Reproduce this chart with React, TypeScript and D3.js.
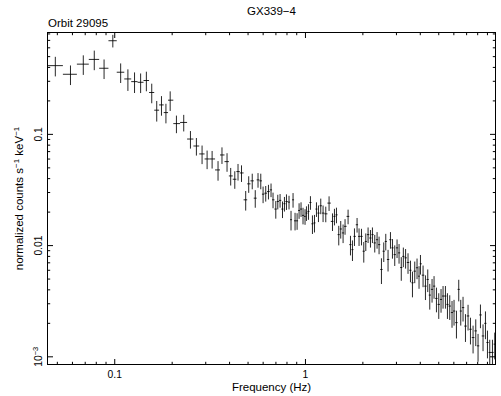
import React from 'react';
import * as d3 from 'd3';

const title = 'GX339\u22124';
const subtitle = 'Orbit 29095';
const xLabel = 'Frequency (Hz)';

const frequency = [
  0.0488, 0.0586, 0.0684, 0.0781, 0.0879, 0.0977, 0.1074, 0.1172, 0.127, 0.1367, 0.1465, 0.1563, 0.166, 0.1758, 0.1855, 0.1953,
  0.2106, 0.23, 0.2494, 0.268, 0.287, 0.305, 0.324, 0.348, 0.365, 0.388,
  0.4055, 0.426, 0.443, 0.462, 0.486, 0.504, 0.526, 0.5455, 0.564, 0.583,
  0.5995, 0.619, 0.6397, 0.66, 0.676, 0.699, 0.716, 0.736, 0.758, 0.776,
  0.795, 0.82, 0.84, 0.861, 0.882, 0.904, 0.926, 0.948, 0.971, 0.995,
  1.012, 1.037, 1.062, 1.088, 1.115, 1.142, 1.17, 1.203, 1.237, 1.278,
  1.33, 1.386, 1.419, 1.454, 1.495, 1.531, 1.575, 1.613, 1.673, 1.722,
  1.764, 1.807, 1.865, 1.91, 1.967, 2.022, 2.072, 2.13, 2.192, 2.245,
  2.309, 2.374, 2.432, 2.503, 2.574, 2.637, 2.711, 2.791, 2.859, 2.939,
  3.022, 3.096, 3.18, 3.26, 3.35, 3.45, 3.553, 3.64, 3.742, 3.847,
  3.941, 4.009, 4.137, 4.258, 4.378, 4.485, 4.611, 4.724, 4.862, 5.0,
  5.14, 5.266, 5.42, 5.553, 5.709, 5.869, 6.013, 6.19, 6.365, 6.521,
  6.704, 6.902, 7.122, 7.332, 7.566, 7.816, 8.036, 8.272, 8.535, 8.787,
  9.003, 9.256, 9.563, 9.83,
];

const power = [
  0.415, 0.347, 0.428, 0.472, 0.393, 0.695, 0.362, 0.315, 0.298, 0.294, 0.305, 0.238, 0.165, 0.184, 0.157, 0.203,
  0.125, 0.128, 0.0908, 0.0786, 0.0667, 0.0601, 0.0601, 0.0479, 0.0653, 0.0569,
  0.0423, 0.0395, 0.0463, 0.045, 0.0258, 0.0359, 0.0382, 0.0267, 0.039, 0.0382,
  0.029, 0.0296, 0.0306, 0.0317, 0.0258, 0.0213, 0.0249, 0.0255, 0.0213, 0.0238,
  0.0249, 0.0246, 0.0171, 0.0258, 0.0167, 0.0167, 0.0207, 0.0213, 0.0187, 0.0183,
  0.0196, 0.0203, 0.0244, 0.0157, 0.016, 0.0213, 0.0196, 0.0228, 0.0196, 0.0193,
  0.0241, 0.0165, 0.0183, 0.0189, 0.01255, 0.0141, 0.013, 0.0149, 0.0183, 0.0102,
  0.0092, 0.0121, 0.0154, 0.0121, 0.0121, 0.0089, 0.0109, 0.01255, 0.0117, 0.01255,
  0.01057, 0.0113, 0.0102, 0.0061, 0.0089, 0.0109, 0.0075, 0.0113, 0.00954, 0.0083,
  0.00954, 0.0086, 0.00635, 0.008, 0.00776, 0.00705, 0.006, 0.00463, 0.00589, 0.00632,
  0.00531, 0.00686, 0.00542, 0.00432, 0.00496, 0.00359, 0.00404, 0.00432, 0.00335, 0.00296,
  0.00328, 0.00352, 0.00352, 0.00296, 0.00286, 0.0025, 0.00258, 0.00203, 0.00404, 0.00258,
  0.00277, 0.00189, 0.00233, 0.00177, 0.00149, 0.00171, 0.001255, 0.00238, 0.00154, 0.002,
  0.001345, 0.001095, 0.001095, 0.0013,
];

const relErr = [
  0.2, 0.2, 0.2, 0.2, 0.2, 0.13, 0.2, 0.22, 0.21, 0.2, 0.2, 0.2, 0.21, 0.2, 0.2, 0.2,
  0.18, 0.17, 0.18, 0.18, 0.19, 0.19, 0.18, 0.2, 0.17, 0.19,
  0.18, 0.18, 0.17, 0.17, 0.2, 0.17, 0.16, 0.18, 0.15, 0.16,
  0.17, 0.16, 0.15, 0.14, 0.16, 0.18, 0.15, 0.14, 0.17, 0.15,
  0.16, 0.14, 0.2, 0.15, 0.18, 0.17, 0.16, 0.15, 0.17, 0.16,
  0.15, 0.16, 0.14, 0.19, 0.18, 0.15, 0.17, 0.16, 0.17, 0.16,
  0.15, 0.18, 0.17, 0.16, 0.2, 0.18, 0.19, 0.16, 0.15, 0.2,
  0.21, 0.18, 0.15, 0.18, 0.17, 0.21, 0.18, 0.16, 0.18, 0.16,
  0.18, 0.17, 0.18, 0.26, 0.2, 0.17, 0.22, 0.17, 0.2, 0.21,
  0.19, 0.2, 0.24, 0.2, 0.2, 0.21, 0.22, 0.26, 0.22, 0.21,
  0.23, 0.2, 0.22, 0.25, 0.23, 0.26, 0.24, 0.23, 0.25, 0.26,
  0.24, 0.23, 0.23, 0.26, 0.25, 0.27, 0.26, 0.28, 0.22, 0.26,
  0.25, 0.28, 0.26, 0.27, 0.28, 0.27, 0.28, 0.24, 0.27, 0.28,
  0.28, 0.3, 0.3, 0.27,
];

const xMajor = [0.1, 1];
const xMajorLabels = ['0.1', '1'];
const yMajor = [0.001, 0.01, 0.1];

const FONT = '"Liberation Sans", Arial, Helvetica, sans-serif';

export default function App() {
  const W = 501;
  const H = 396;
  const L = 47.5;
  const R = 495.5;
  const T = 32.5;
  const B = 364.5;

  const x = d3.scaleLog().domain([0.0444, 9.92]).range([L, R]);
  const y = d3.scaleLog().domain([0.000853, 0.824]).range([B, T]);

  const [xd0, xd1] = x.domain();
  const [yd0, yd1] = y.domain();
  const xMinor: number[] = [];
  const yMinor: number[] = [];
  for (let e = -3; e <= 1; e++) {
    for (let m = 2; m <= 9; m++) {
      const v = m * Math.pow(10, e);
      if (v > xd0 && v < xd1) xMinor.push(v);
      if (v > yd0 && v < yd1) yMinor.push(v);
    }
  }

  const n = Math.min(frequency.length, power.length, relErr.length);
  const pts = d3.range(n).map((i) => {
    const f = frequency[i];
    const prev = i > 0 ? frequency[i - 1] : (f * f) / frequency[i + 1];
    const next = i < n - 1 ? frequency[i + 1] : (f * f) / frequency[i - 1];
    return {
      f,
      lo: Math.sqrt(prev * f),
      hi: Math.sqrt(next * f),
      v: power[i],
      vLo: power[i] * (1 - relErr[i]),
      vHi: power[i] * (1 + relErr[i]),
    };
  });

  const majorLen = 5.5;
  const minorLen = 2.7;

  return (
    <svg
      width={W}
      height={H}
      viewBox={`0 0 ${W} ${H}`}
      style={{ position: 'absolute', left: 0, top: 0, background: '#fff' }}
      fontFamily={FONT}
    >
      <rect x={0} y={0} width={W} height={H} fill="#fff" />
      <defs>
        <clipPath id="plotClip">
          <rect x={L} y={T} width={R - L} height={B - T} />
        </clipPath>
      </defs>

      <text x={(L + R) / 2} y={15} textAnchor="middle" fontSize={11.5} fill="#000">
        {title}
      </text>
      <text x={L + 0.5} y={26.5} textAnchor="start" fontSize={11.5} fill="#000">
        {subtitle}
      </text>

      <g clipPath="url(#plotClip)" stroke="#000" strokeWidth={0.85} fill="none">
        {pts.map((p, i) => (
          <g key={i}>
            <line x1={x(p.f)} x2={x(p.f)} y1={y(p.vHi)} y2={y(p.vLo)} />
            <line x1={x(p.lo)} x2={x(p.hi)} y1={y(p.v)} y2={y(p.v)} />
          </g>
        ))}
      </g>

      <g stroke="#000" strokeWidth={1} fill="none">
        <rect x={L} y={T} width={R - L} height={B - T} />
        {xMajor.map((v) => (
          <g key={'xM' + v}>
            <line x1={x(v)} x2={x(v)} y1={B} y2={B - majorLen} />
            <line x1={x(v)} x2={x(v)} y1={T} y2={T + majorLen} />
          </g>
        ))}
        {xMinor.map((v) => (
          <g key={'xm' + v}>
            <line x1={x(v)} x2={x(v)} y1={B} y2={B - minorLen} />
            <line x1={x(v)} x2={x(v)} y1={T} y2={T + minorLen} />
          </g>
        ))}
        {yMajor.map((v) => (
          <g key={'yM' + v}>
            <line x1={L} x2={L + majorLen} y1={y(v)} y2={y(v)} />
            <line x1={R} x2={R - majorLen} y1={y(v)} y2={y(v)} />
          </g>
        ))}
        {yMinor.map((v) => (
          <g key={'ym' + v}>
            <line x1={L} x2={L + minorLen} y1={y(v)} y2={y(v)} />
            <line x1={R} x2={R - minorLen} y1={y(v)} y2={y(v)} />
          </g>
        ))}
      </g>

      <g fontSize={10.3} fill="#000">
        {xMajor.map((v, i) => (
          <text key={'xl' + v} x={x(v)} y={377.5} textAnchor="middle">
            {xMajorLabels[i]}
          </text>
        ))}
        <text transform={`translate(41.5,${y(0.1)}) rotate(-90)`} textAnchor="middle">0.1</text>
        <text transform={`translate(41.5,${y(0.01)}) rotate(-90)`} textAnchor="middle">0.01</text>
        <text transform={`translate(41.5,${y(0.001)}) rotate(-90)`} textAnchor="middle">
          10<tspan dy={-4} fontSize={7.5}>{'\u22123'}</tspan>
        </text>
      </g>

      <text x={(L + R) / 2} y={390.5} textAnchor="middle" fontSize={11.5} fill="#000">
        {xLabel}
      </text>
      <text
        transform={`translate(23.3,${(T + B) / 2}) rotate(-90)`}
        textAnchor="middle"
        fontSize={11.5}
        fill="#000"
      >
        normalized counts s<tspan dy={-4} fontSize={8}>{'\u22121'}</tspan>
        <tspan dy={4}> keV</tspan>
        <tspan dy={-4} fontSize={8}>{'\u22121'}</tspan>
      </text>
    </svg>
  );
}
